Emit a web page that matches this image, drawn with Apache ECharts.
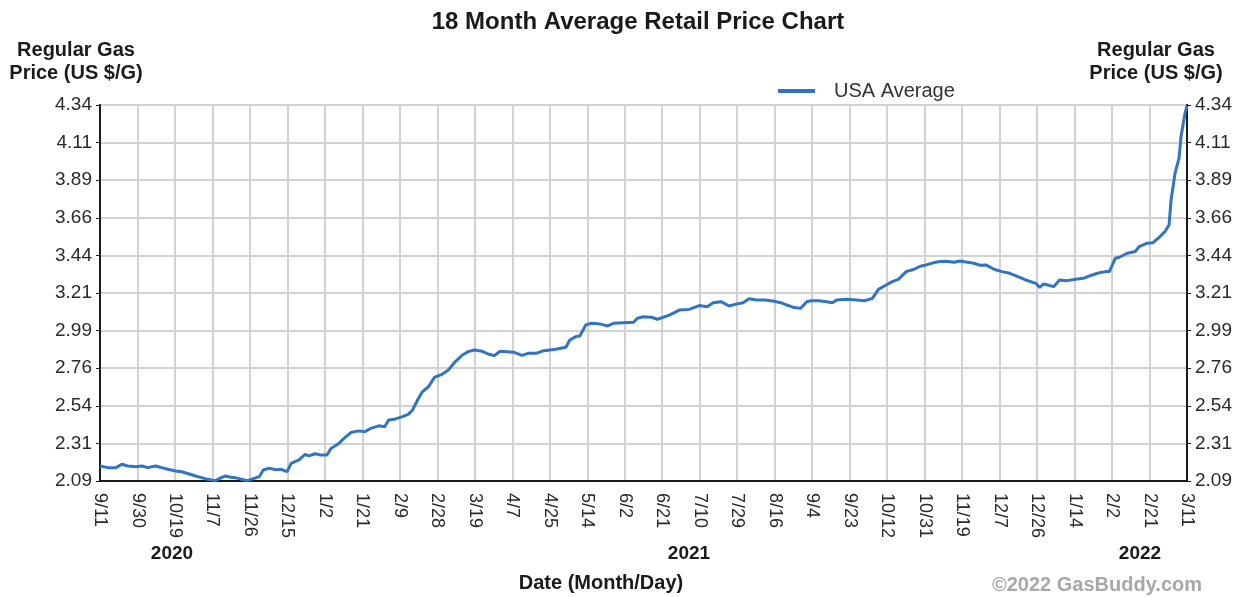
<!DOCTYPE html>
<html><head><meta charset="utf-8">
<script src="https://cdn.jsdelivr.net/npm/echarts@6/dist/echarts.min.js"></script>
<style>html,body{margin:0;padding:0;background:#fff}#c{width:1246px;height:597px}</style>
</head><body><div id="c"></div>
<script>
// ---- data ----
const startDate = '2020-09-11';
const xTickLabels = ['9/11','9/30','10/19','11/7','11/26','12/15','1/2','1/21','2/9','2/28','3/19','4/7','4/25','5/14','6/2','6/21','7/10','7/29','8/16','9/4','9/23','10/12','10/31','11/19','12/7','12/26','1/14','2/2','2/21','3/11'];
const yTickLabels = ['2.09','2.31','2.54','2.76','2.99','3.21','3.44','3.66','3.89','4.11','4.34'];
const yearLabels = ['2020','2021','2022'];
const seriesName = 'USA Average';
const dayOffsets = [0,4,8,11,14,18,21,24,28,31,34,38,41,44,48,51,54,58,60,63,65,68,71,74,76,80,82,85,88,91,94,96,100,103,105,108,111,114,116,120,123,126,130,133,136,140,143,145,148,152,155,157,160,162,165,168,172,175,178,182,185,188,192,195,198,201,204,208,212,215,219,223,226,229,234,236,239,241,244,247,251,255,258,263,268,270,273,277,280,286,291,296,301,305,308,312,316,320,323,326,330,334,338,342,345,348,352,353,355,357,361,365,368,370,375,380,384,388,391,394,398,401,405,409,412,415,419,422,425,429,432,435,439,442,445,449,453,457,461,465,470,472,474,476,479,482,486,490,494,497,501,505,507,510,512,516,520,522,526,529,532,535,537,538,540,542,543,545,546];
const prices = [2.18,2.17,2.17,2.19,2.18,2.175,2.18,2.17,2.18,2.17,2.16,2.15,2.145,2.135,2.12,2.11,2.10,2.092,2.105,2.12,2.114,2.11,2.10,2.092,2.10,2.116,2.156,2.166,2.158,2.16,2.146,2.196,2.216,2.25,2.24,2.253,2.245,2.245,2.285,2.315,2.35,2.38,2.39,2.385,2.405,2.42,2.415,2.455,2.46,2.475,2.49,2.515,2.585,2.625,2.654,2.71,2.73,2.754,2.798,2.844,2.864,2.874,2.866,2.85,2.84,2.866,2.864,2.86,2.842,2.854,2.854,2.87,2.874,2.878,2.89,2.934,2.954,2.958,3.024,3.034,3.03,3.018,3.034,3.037,3.04,3.064,3.073,3.07,3.058,3.083,3.113,3.117,3.14,3.133,3.157,3.163,3.137,3.15,3.157,3.18,3.173,3.173,3.167,3.157,3.143,3.13,3.123,3.117,3.163,3.169,3.169,3.163,3.157,3.173,3.177,3.173,3.169,3.183,3.237,3.257,3.283,3.297,3.343,3.357,3.375,3.383,3.397,3.403,3.405,3.399,3.407,3.40,3.393,3.381,3.383,3.357,3.343,3.333,3.313,3.293,3.273,3.249,3.269,3.263,3.253,3.293,3.289,3.297,3.303,3.317,3.333,3.343,3.343,3.423,3.429,3.453,3.463,3.493,3.513,3.516,3.548,3.583,3.623,3.772,3.932,4.022,4.151,4.291,4.334];
const yMin = 2.09, yMax = 4.34, yStep = 0.225;
const dayMax = 546;

// ---- chart ----
const xStep = dayMax / (xTickLabels.length - 1);
const points = dayOffsets.map((d, i) => [d, prices[i]]);
const FONT = '"Liberation Sans", Arial, sans-serif';
const yLabelFmt = v => yTickLabels[Math.round((v - yMin) / yStep)] ?? '';
const xLabelFmt = v => xTickLabels[Math.round(v / xStep)] ?? '';

const yAxisCommon = {
  type: 'value', min: yMin, max: yMax, interval: yStep,
  axisLine: { show: true, lineStyle: { color: '#1a1a1a', width: 2 } },
  axisTick: { show: true, length: 4, lineStyle: { color: '#1a1a1a' } },
  axisLabel: { formatter: yLabelFmt, color: '#2a2a2a', fontSize: 19, fontFamily: FONT, margin: 8 }
};

const chart = echarts.init(document.getElementById('c'), null, { renderer: 'canvas' });
chart.setOption({
  animation: false,
  backgroundColor: '#fff',
  title: {
    text: '18 Month Average Retail Price Chart',
    left: 633, top: 5, textAlign: 'center',
    textStyle: { fontSize: 24, fontWeight: 'bold', color: '#1a1a1a', fontFamily: FONT }
  },
  legend: {
    data: [seriesName], left: 773, top: 76,
    icon: 'rect', itemWidth: 37, itemHeight: 4,
    textStyle: { fontSize: 20, color: '#333', fontFamily: FONT, padding: [0, 0, 0, 14] }
  },
  grid: { left: 100, right: 59, top: 105, bottom: 116, show: true, borderColor: '#1a1a1a', borderWidth: 2 },
  xAxis: {
    type: 'value', min: 0, max: dayMax, interval: xStep,
    axisLine: { show: true, lineStyle: { color: '#1a1a1a', width: 2 } },
    axisTick: { show: false },
    splitLine: { show: true, lineStyle: { color: '#d2d2d2', width: 2 } },
    axisLabel: { formatter: xLabelFmt, rotate: -90, color: '#2a2a2a', fontSize: 18, fontFamily: FONT, margin: 12, showMaxLabel: true, showMinLabel: true }
  },
  yAxis: [
    Object.assign({}, yAxisCommon, { position: 'left', splitLine: { show: true, lineStyle: { color: '#d2d2d2', width: 2 } } }),
    Object.assign({}, yAxisCommon, { position: 'right', splitLine: { show: false } })
  ],
  series: [{
    name: seriesName, type: 'line', data: points, showSymbol: false, smooth: false,
    itemStyle: { color: '#3174c2' },
    lineStyle: { color: '#3174c2', width: 3 }
  }],
  graphic: [
    { type: 'text', x: 76, y: 62, style: { text: 'Regular Gas\nPrice (US $/G)', align: 'center', verticalAlign: 'middle', lineHeight: 23, font: 'bold 20px ' + FONT, fill: '#1a1a1a' } },
    { type: 'text', x: 1156, y: 62, style: { text: 'Regular Gas\nPrice (US $/G)', align: 'center', verticalAlign: 'middle', lineHeight: 23, font: 'bold 20px ' + FONT, fill: '#1a1a1a' } },
    { type: 'text', x: 172, y: 554, style: { text: yearLabels[0], align: 'center', verticalAlign: 'middle', font: 'bold 19px ' + FONT, fill: '#1a1a1a' } },
    { type: 'text', x: 689, y: 554, style: { text: yearLabels[1], align: 'center', verticalAlign: 'middle', font: 'bold 19px ' + FONT, fill: '#1a1a1a' } },
    { type: 'text', x: 1140, y: 554, style: { text: yearLabels[2], align: 'center', verticalAlign: 'middle', font: 'bold 19px ' + FONT, fill: '#1a1a1a' } },
    { type: 'text', x: 601, y: 583, style: { text: 'Date (Month/Day)', align: 'center', verticalAlign: 'middle', font: 'bold 20px ' + FONT, fill: '#1a1a1a' } },
    { type: 'text', x: 1097, y: 585, style: { text: '©2022 GasBuddy.com', align: 'center', verticalAlign: 'middle', font: 'bold 20px ' + FONT, fill: '#a8a8a8' } }
  ]
});
</script>
</body></html>
